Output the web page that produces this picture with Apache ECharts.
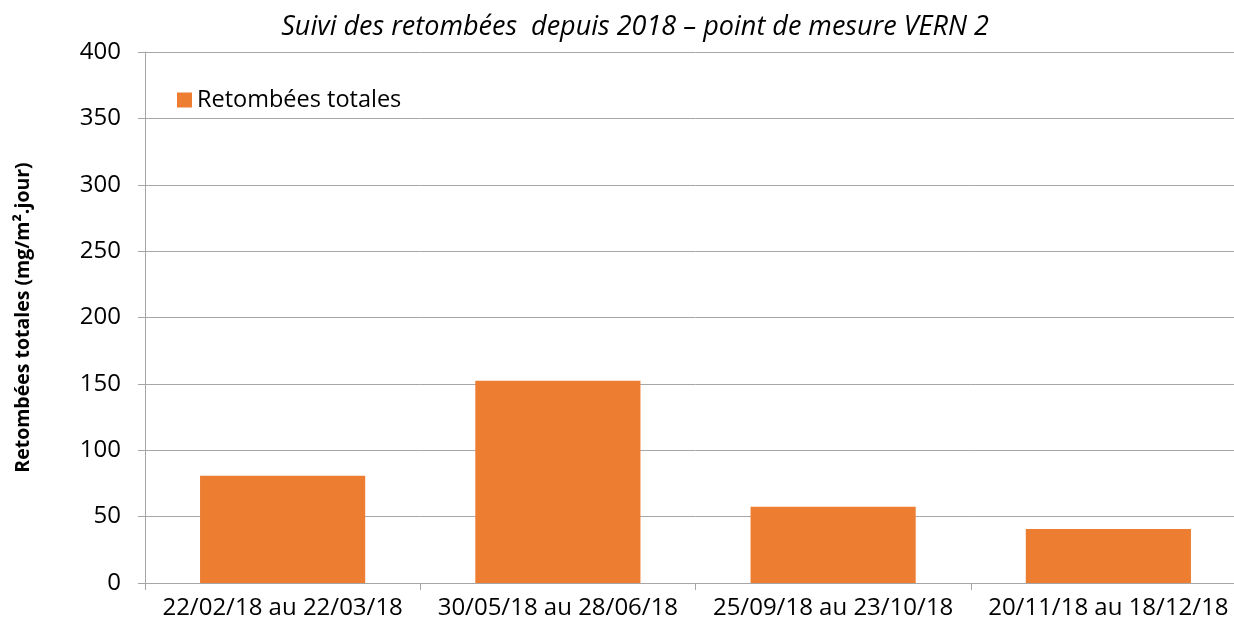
<!DOCTYPE html>
<html>
<head>
<meta charset="utf-8">
<script src="https://cdn.jsdelivr.net/npm/echarts@6/dist/echarts.min.js"></script>
<style>
html, body { margin: 0; padding: 0; background: #fff; overflow: hidden; }
/* le graphique d'origine est rogné à droite : conteneur plus large que la fenêtre */
#chart { width: 1248px; height: 629px; }
</style>
</head>
<body>
<div id="chart"></div>
<script>
// données
var categories = ["22/02/18 au 22/03/18", "30/05/18 au 28/06/18", "25/09/18 au 23/10/18", "20/11/18 au 18/12/18"];
var retombees = [80.7, 152.4, 57.4, 40.6];
var seriesName = "Retombées totales";

var font = "'Open Sans', 'Liberation Sans', sans-serif";
var chart = echarts.init(document.getElementById("chart"));
chart.setOption({
    animation: false,
    textStyle: { fontFamily: font },
    title: {
        text: "Suivi des retombées  depuis 2018 – point de mesure VERN 2",
        left: 630,
        top: 9,
        textAlign: "center",
        textStyle: { fontStyle: "italic", fontWeight: "normal", fontSize: 27, color: "#000", fontFamily: font }
    },
    legend: {
        left: 172,
        top: 83,
        itemWidth: 15,
        itemHeight: 15,
        itemGap: 6,
        icon: "rect",
        textStyle: { fontSize: 23.5, color: "#000", fontFamily: font },
        data: [seriesName]
    },
    grid: { left: 145, right: 2, top: 52, bottom: 46 },
    xAxis: {
        type: "category",
        data: categories,
        axisLine: { lineStyle: { color: "#a6a6a6", width: 1 } },
        axisTick: { show: true, length: 7, interval: 0, lineStyle: { color: "#a6a6a6" } },
        axisLabel: { fontSize: 24, color: "#000", margin: 13, interval: 0, fontFamily: font }
    },
    yAxis: {
        type: "value",
        min: 0,
        max: 400,
        interval: 50,
        name: "Retombées totales (mg/m².jour)",
        nameLocation: "middle",
        nameGap: 112,
        nameTextStyle: { fontSize: 19.5, fontWeight: "bold", color: "#000", fontFamily: font },
        axisLine: { show: true, lineStyle: { color: "#a6a6a6" } },
        axisTick: { show: true, length: 7, lineStyle: { color: "#a6a6a6" } },
        axisLabel: { fontSize: 24, color: "#000", margin: 24, fontFamily: font },
        splitLine: { lineStyle: { color: "#a6a6a6", width: 1 } }
    },
    series: [{
        name: seriesName,
        type: "bar",
        barCategoryGap: "40%",
        itemStyle: { color: "#ED7D31" },
        data: retombees
    }]
});
</script>
</body>
</html>
